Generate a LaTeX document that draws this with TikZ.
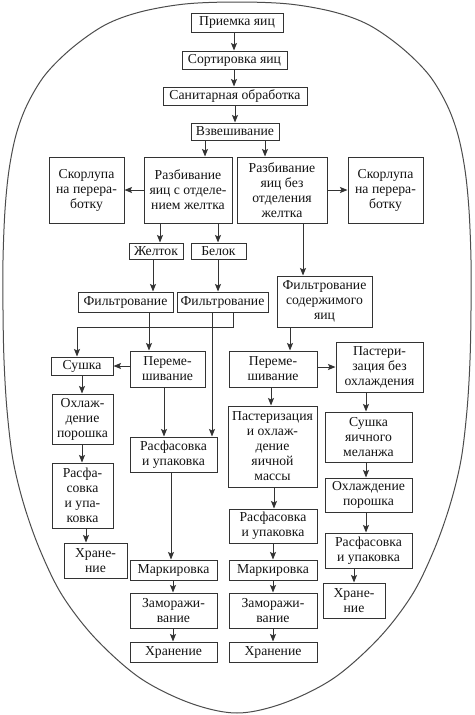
\documentclass[tikz,border=0pt]{standalone}
\usepackage{fontspec}
\setmainfont{Liberation Serif}
\usetikzlibrary{arrows.meta}
\tikzset{
  box/.style={draw=black!80, line width=1pt, inner sep=0pt, align=center,
    font=\fontsize{13.7}{15}\selectfont, text=black!92},
  arr/.style={draw=black!80, line width=1pt, -{Stealth[length=7.5pt,width=6pt,inset=1.5pt]}},
  ln/.style={draw=black!80, line width=1pt},
  egg/.style={draw=black!70, line width=1pt}
}
\newcommand{\bx}[6]{\pgfmathsetmacro\bw{#4-#2}\pgfmathsetmacro\bh{#5-#3}%
  \node[box,minimum width=\bw pt,minimum height=\bh pt] (#1) at ({(#2+#4)/2},{(#3+#5)/2}) {#6};}
\newcommand{\va}[3]{\draw[arr] (#2.south -| #1,0) -- (#3.north -| #1,0);}
\newcommand{\ha}[3]{\draw[arr] (#2 |- 0,#1) -- (#3 |- 0,#1);}
\begin{document}
\begin{tikzpicture}[x=1pt,y=-1pt]
\fill[white] (0,0) rectangle (474,715);
\useasboundingbox (0,0) rectangle (474,715);
% egg outline
\draw[egg] plot[smooth cycle, tension=0.55] coordinates {
 (237,2) (185,4) (140,12) (105,25) (72,48) (45,75) (27,105) (16,135) (9,170) (5,210)
 (3,260) (3,310) (4,360) (7,410) (13,460) (24,505) (40,550) (62,595) (95,638) (140,678)
 (190,703) (237,713)
 (284,703) (334,678) (379,638) (412,595) (434,550) (450,505) (461,460) (467,410) (470,360)
 (471,310) (471,260) (469,210) (465,170) (458,135) (447,105) (429,75) (402,48) (369,25)
 (334,12) (289,4)};
% boxes
\bx{priem}{191}{13}{283}{32}{Приемка яиц}
\bx{sort}{182}{51}{287}{69}{Сортировка яиц}
\bx{san}{163}{87}{307}{105}{Санитарная обработка}
\bx{vzv}{191}{123}{279}{140}{Взвешивание}
\bx{skor1}{49}{157}{124}{223}{Скорлупа\\на перера-\\ботку}
\bx{razb1}{144}{157}{232}{223}{Разбивание\\яиц с отделе-\\нием желтка}
\bx{razb2}{237}{157}{327}{223}{Разбивание\\яиц без\\отделения\\желтка}
\bx{skor2}{348}{157}{423}{223}{Скорлупа\\на перера-\\ботку}
\bx{zhel}{129}{243}{183}{259}{Желток}
\bx{belok}{191}{243}{246}{259}{Белок}
\bx{filt1}{78}{292}{173}{312}{Фильтрование}
\bx{filt2}{177}{292}{268}{312}{Фильтрование}
\bx{filt3}{277}{276}{372}{327}{Фильтрование\\содержимого\\яиц}
\bx{sush}{51}{357}{113}{375}{Сушка}
\bx{perem1}{130}{351}{205}{387}{Переме-\\шивание}
\bx{perem2}{229}{351}{317}{387}{Переме-\\шивание}
\bx{past1}{336}{342}{423}{392}{Пастери-\\зация без\\охлаждения}
\bx{ohl1}{52}{394}{113}{444}{Охлаж-\\дение\\порошка}
\bx{rasfm}{130}{437}{217}{472}{Расфасовка\\и упаковка}
\bx{past2}{228}{406}{317}{487}{Пастеризация\\и охлаж-\\дение\\яичной\\массы}
\bx{sushmel}{325}{412}{412}{462}{Сушка\\яичного\\меланжа}
\bx{rasf1}{52}{463}{113}{528}{Расфа-\\совка\\и упа-\\ковка}
\bx{hran1}{64}{543}{127}{578}{Хране-\\ние}
\bx{ohl2}{325}{478}{412}{512}{Охлаждение\\порошка}
\bx{rasf2}{229}{509}{317}{543}{Расфасовка\\и упаковка}
\bx{rasf3}{325}{533}{412}{568}{Расфасовка\\и упаковка}
\bx{mark1}{130}{560}{217}{580}{Маркировка}
\bx{mark2}{229}{560}{317}{580}{Маркировка}
\bx{hran4}{323}{583}{385}{618}{Хране-\\ние}
\bx{zam1}{130}{593}{217}{628}{Заморажи-\\вание}
\bx{zam2}{229}{593}{317}{628}{Заморажи-\\вание}
\bx{hran2}{130}{642}{217}{662}{Хранение}
\bx{hran3}{229}{642}{317}{662}{Хранение}
% connectors
\va{234}{priem}{sort}
\va{234}{sort}{san}
\va{235}{san}{vzv}
\va{205}{vzv}{razb1}
\va{265}{vzv}{razb2}
\ha{190}{razb1.west}{skor1.east}
\ha{190}{razb2.east}{skor2.west}
\va{160}{razb1}{zhel}
\va{218}{razb1}{belok}
\va{303}{razb2}{filt3}
\va{153}{zhel}{filt1}
\va{218}{belok}{filt2}
\va{149}{filt1}{perem1}
\coordinate (bendA) at (233,327);
\coordinate (bendB) at (77,327);
\draw[ln] (filt2.south -| bendA) -- (bendA) -- (bendB);
\draw[arr] (bendB) -- (sush.north -| bendB);
\va{212}{filt2}{rasfm}
\ha{366}{perem1.west}{sush.east}
\va{164}{perem1}{rasfm}
\va{290}{filt3}{perem2}
\ha{367}{perem2.east}{past1.west}
\va{271}{perem2}{past2}
\va{366}{past1}{sushmel}
\va{82}{sush}{ohl1}
\va{82}{ohl1}{rasf1}
\va{86}{rasf1}{hran1}
\va{171}{rasfm}{mark1}
\va{173}{mark1}{zam1}
\va{173}{zam1}{hran2}
\va{274}{past2}{rasf2}
\va{273}{rasf2}{mark2}
\va{273}{mark2}{zam2}
\va{273}{zam2}{hran3}
\va{366}{sushmel}{ohl2}
\va{366}{ohl2}{rasf3}
\va{354}{rasf3}{hran4}
\end{tikzpicture}
\end{document}
